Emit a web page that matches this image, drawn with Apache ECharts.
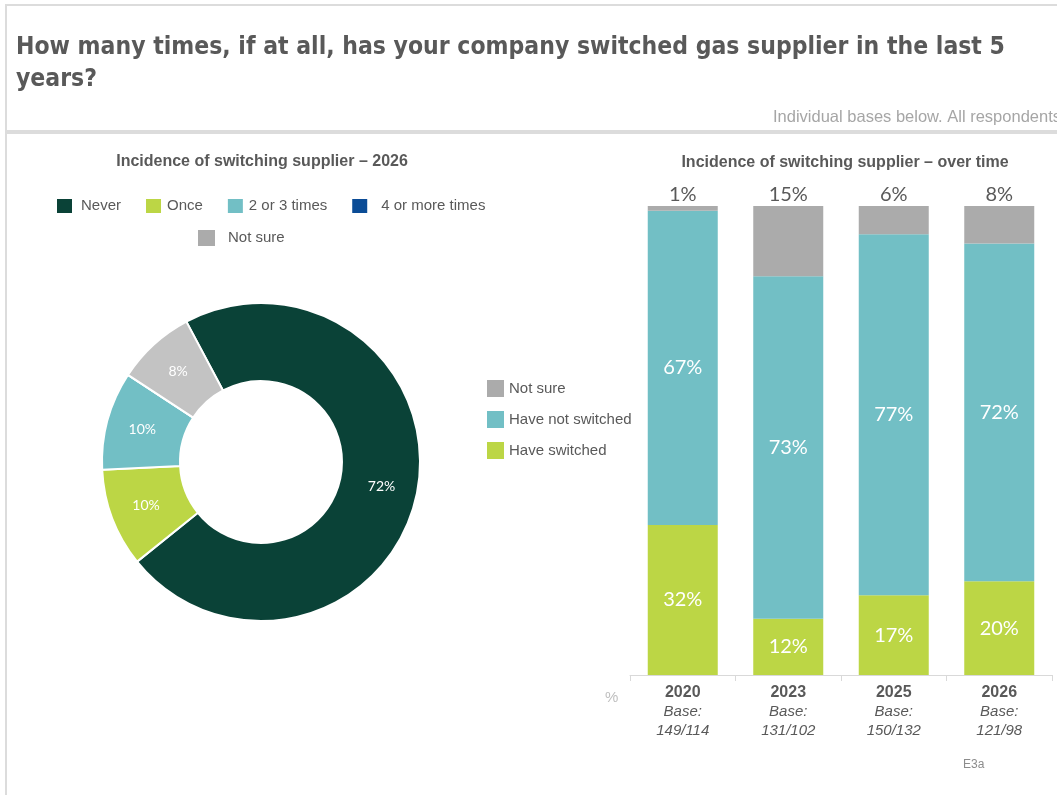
<!DOCTYPE html>
<html>
<head>
<meta charset="utf-8">
<script src="https://cdn.jsdelivr.net/npm/echarts@6/dist/echarts.min.js"></script>
<style>
  html, body { margin: 0; padding: 0; background: #fff; }
  #chart { width: 1057px; height: 795px; }
</style>
</head>
<body>
<div id="chart"></div>
<script>
// Survey years and their base sizes (all / those asked)
const years = ['2020', '2023', '2025', '2026'];
const bases = ['149/114', '131/102', '150/132', '121/98'];

// Stacked bar shares, %
const haveSwitched = [32, 12, 17, 20];
const haveNotSwitched = [67, 73, 77, 72];
const notSure = [1, 15, 6, 8];

// 2026 breakdown of number of switches, %
const pieNames = ['Never', 'Once', '2 or 3 times', '4 or more times', 'Not sure'];
const pieValues = [72, 10, 10, 0, 8];
const pieColors = ['#0a4237', '#bcd645', '#72bfc5', '#0b4c96', '#c3c3c3'];

const GREY_TEXT = '#595959';
const SANS = '"Liberation Sans", Arial, sans-serif';
const NUM = 'Lato, "Open Sans", sans-serif';

const chart = echarts.init(document.getElementById('chart'), null, { renderer: 'canvas' });

const legendText = { fontFamily: SANS, fontSize: 15, color: GREY_TEXT };

const option = {
  backgroundColor: '#ffffff',
  animation: false,
  title: [
    {
      text: 'Incidence of switching supplier \u2013 2026',
      left: 257, top: 149, textAlign: 'center',
      textStyle: { fontFamily: SANS, fontSize: 16, fontWeight: 'bold', color: GREY_TEXT }
    },
    {
      text: 'Incidence of switching supplier \u2013 over time',
      left: 840, top: 150, textAlign: 'center',
      textStyle: { fontFamily: SANS, fontSize: 16, fontWeight: 'bold', color: GREY_TEXT }
    }
  ],
  legend: [
    {
      data: [
        { name: 'Never', textStyle: { padding: [0, 0, 0, 3] } },
        { name: 'Once', textStyle: { padding: [0, 4, 0, 0] } },
        { name: '2 or 3 times', textStyle: { padding: [0, 4, 0, 0] } },
        { name: '4 or more times', textStyle: { padding: [0, 0, 0, 8] } }
      ],
      left: 50, top: 192,
      icon: 'rect', itemWidth: 17, itemHeight: 16, itemGap: 23,
      selectedMode: false,
      textStyle: legendText
    },
    {
      data: [{ name: 'Not sure', textStyle: { padding: [0, 0, 0, 8] } }],
      left: 193, top: 225,
      icon: 'rect', itemWidth: 17, itemHeight: 16,
      selectedMode: false,
      textStyle: legendText
    },
    {
      data: ['Not sure', 'Have not switched', 'Have switched'],
      orient: 'vertical',
      left: 482, top: 375,
      icon: 'rect', itemWidth: 17, itemHeight: 17, itemGap: 14,
      selectedMode: false,
      textStyle: legendText
    }
  ],
  grid: { left: 630, right: 5, top: 206, bottom: 120, containLabel: false },
  xAxis: {
    type: 'category',
    data: years,
    axisLine: { lineStyle: { color: '#d9d9d9', width: 1 } },
    axisTick: { show: true, length: 6, lineStyle: { color: '#d9d9d9' } },
    axisLabel: {
      margin: 8,
      formatter: (v, i) => `{y|${years[i]}}\n{b|Base:}\n{b|${bases[i]}}`,
      rich: {
        y: { fontFamily: SANS, fontSize: 16, fontWeight: 'bold', color: GREY_TEXT, lineHeight: 19 },
        b: { fontFamily: SANS, fontSize: 15, fontStyle: 'italic', color: GREY_TEXT, lineHeight: 19 }
      }
    }
  },
  yAxis: { type: 'value', min: 0, max: 100, show: false, splitLine: { show: false } },
  series: [
    {
      type: 'pie',
      name: '2026',
      center: [261, 462],
      radius: [81, 159],
      startAngle: 118,
      clockwise: true,
      avoidLabelOverlap: false,
      itemStyle: { borderColor: '#ffffff', borderWidth: 2 },
      label: {
        show: true, position: 'inside',
        formatter: p => p.value > 0 ? p.value + '%' : '',
        fontFamily: NUM, fontSize: 14, color: '#ffffff'
      },
      labelLine: { show: false },
      emphasis: { disabled: true },
      data: pieNames.map((n, i) => ({ name: n, value: pieValues[i], itemStyle: { color: pieColors[i] } }))
    },
    {
      type: 'bar', name: 'Have switched', stack: 'total',
      data: haveSwitched, barWidth: 70,
      itemStyle: { color: '#bcd645' },
      label: { show: true, position: 'inside', formatter: '{c}%', fontFamily: NUM, fontSize: 20, color: '#ffffff' }
    },
    {
      type: 'bar', name: 'Have not switched', stack: 'total',
      data: haveNotSwitched, barWidth: 70,
      itemStyle: { color: '#72bfc5' },
      label: { show: true, position: 'inside', formatter: '{c}%', fontFamily: NUM, fontSize: 20, color: '#ffffff' }
    },
    {
      type: 'bar', name: 'Not sure', stack: 'total',
      data: notSure, barWidth: 70,
      itemStyle: { color: '#ababab' },
      label: { show: true, position: 'top', distance: 1, formatter: '{c}%', fontFamily: NUM, fontSize: 20, color: GREY_TEXT }
    }
  ],
  graphic: [
    // page frame lines
    { type: 'rect', shape: { x: 5, y: 4, width: 1052, height: 2 }, style: { fill: '#dcdcdc' }, silent: true },
    { type: 'rect', shape: { x: 5, y: 4, width: 2, height: 791 }, style: { fill: '#dcdcdc' }, silent: true },
    { type: 'rect', shape: { x: 5, y: 130, width: 1052, height: 4 }, style: { fill: '#dcdcdc' }, silent: true },
    {
      type: 'text', left: 16, top: 32,
      style: {
        text: 'How many times, if at all, has your company switched gas supplier in the last 5\nyears?',
        font: 'bold 24.5px "DejaVu Sans Condensed", "DejaVu Sans", sans-serif',
        fill: GREY_TEXT, lineHeight: 32
      }
    },
    {
      type: 'text', left: 773, top: 109,
      style: { text: 'Individual bases below. All respondents', font: '16.5px ' + SANS, fill: '#a6a6a6' }
    },
    {
      type: 'text', left: 605, top: 690,
      style: { text: '%', font: '15px ' + SANS, fill: '#bfbfbf' }
    },
    {
      type: 'text', left: 963, top: 759,
      style: { text: 'E3a', font: '12px ' + SANS, fill: '#8c8c8c' }
    }
  ]
};

chart.setOption(option);
</script>
</body>
</html>
